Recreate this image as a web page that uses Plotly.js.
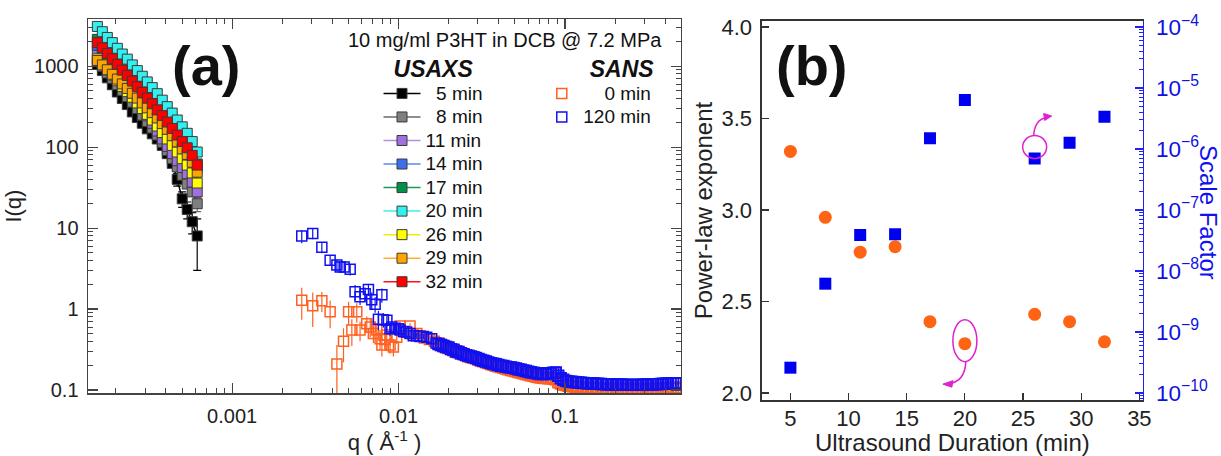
<!DOCTYPE html>
<html><head><meta charset="utf-8">
<script src="https://cdn.plot.ly/plotly-3.0.1.min.js"></script>
<style>html,body{margin:0;padding:0;background:#fff}#chart{width:1221px;height:456px}</style>
</head><body><div id="chart"></div>
<script>
// ---------- Panel (a): USAXS ----------
const usaxsQ = [1.549e-4, 1.660e-4, 1.778e-4, 1.905e-4, 2.042e-4, 2.188e-4, 2.344e-4, 2.512e-4, 2.692e-4, 2.884e-4, 3.090e-4, 3.311e-4, 3.548e-4, 3.802e-4, 4.074e-4, 4.365e-4, 4.677e-4, 5.012e-4, 5.370e-4, 5.754e-4, 6.166e-4];
const usaxsLabels = ['5 min', '8 min', '11 min', '14 min', '17 min', '20 min', '26 min', '29 min', '32 min'];
const usaxs5  = [1050, 881, 716, 589, 479, 398, 335, 272, 232, 197, 168, 146, 126, 105, 83, 63, 40, 23, 17, 12, 8];
const usaxs5Err = [10, 8, 7, 6, 5, 5, 4, 4, 4, 4, 4, 4, 4, 5, 5, 6, 7, 5, 4, 3.5, 5];
const usaxs8  = [1150, 989, 822, 708, 589, 501, 422, 359, 299, 248, 207, 172, 141, 115, 91, 72, 57, 45, 35, 28, 20];
const usaxs8Err = [8, 7, 6, 5, 5, 4, 4, 3, 3, 3, 3, 3, 3, 3, 3, 3, 3, 3, 3, 3, 4];
const usaxs11 = [1550, 1300, 1080, 912, 759, 631, 531, 442, 367, 299, 243, 197, 158, 126, 102, 83, 68, 56, 47, 37, 28];
const usaxs14 = [1810, 1560, 1330, 1140, 977, 829, 713, 607, 517, 440, 375, 319, 268, 228, 190, 158, 131, 109, 91, 73, 56];
const usaxs17 = [2140, 1840, 1570, 1350, 1150, 977, 841, 716, 610, 519, 442, 376, 316, 263, 219, 182, 150, 123, 102, 81, 62];
const usaxs20 = [3090, 2660, 2260, 1950, 1660, 1410, 1220, 1035, 881, 750, 638, 543, 457, 380, 316, 263, 216, 178, 148, 117, 87];
const usaxs26 = [1230, 1060, 902, 776, 661, 562, 484, 412, 351, 299, 254, 216, 182, 151, 126, 105, 87, 72, 60, 48, 36];
const usaxs29 = [1175, 1035, 902, 794, 692, 603, 531, 462, 403, 351, 305, 266, 229, 195, 166, 138, 116, 95, 81, 65, 49];
const usaxs32 = [1950, 1680, 1430, 1230, 1050, 891, 767, 653, 556, 473, 403, 343, 288, 245, 204, 170, 141, 117, 98, 79, 60];

// ---------- Panel (a): SANS, low q (individual points) ----------
const sansLabels = ['0 min', '120 min'];
const sans0LowQ = [2.62e-3, 3.05e-3, 3.46e-3, 3.88e-3, 4.26e-3, 4.67e-3, 5.01e-3, 5.24e-3, 5.61e-3, 5.87e-3, 6.44e-3, 6.76e-3, 7.06e-3, 7.40e-3, 7.74e-3, 7.94e-3, 8.30e-3, 8.49e-3, 8.89e-3, 9.31e-3, 9.75e-3, 1.021e-2, 1.094e-2, 1.172e-2, 1.227e-2, 1.288e-2, 1.349e-2, 1.429e-2, 1.531e-2, 1.641e-2];
const sans0LowI = [1.29, 1.10, 1.27, 0.93, 0.21, 0.40, 0.93, 0.55, 0.93, 0.55, 0.66, 0.60, 0.50, 0.55, 0.43, 0.36, 0.42, 0.48, 0.36, 0.34, 0.45, 0.62, 0.52, 0.62, 0.48, 0.50, 0.47, 0.44, 0.42, 0.40];
const sans0LowErr = [0.55, 0.5, 0.35, 0.35, 0.15, 0.18, 0.3, 0.2, 0.25, 0.15, 0.15, 0.15, 0.12, 0.12, 0.12, 0.1, 0.1, 0.1, 0.08, 0.08, 0.08, 0.06, 0.06, 0.05, 0.05, 0.04, 0.035, 0.03, 0.03, 0.028];
const sans120LowQ = [2.62e-3, 3.05e-3, 3.46e-3, 3.88e-3, 4.26e-3, 4.46e-3, 4.71e-3, 5.12e-3, 5.48e-3, 5.87e-3, 6.30e-3, 6.59e-3, 6.90e-3, 7.23e-3, 7.57e-3, 7.94e-3, 8.11e-3, 8.51e-3, 8.89e-3, 9.10e-3, 9.53e-3, 9.98e-3, 1.021e-2, 1.069e-2, 1.119e-2, 1.172e-2, 1.227e-2, 1.285e-2, 1.346e-2, 1.409e-2, 1.476e-2, 1.581e-2, 1.679e-2];
const sans120LowI = [8.0, 8.6, 5.8, 4.0, 3.5, 3.3, 3.3, 3.1, 1.64, 1.42, 1.55, 1.75, 1.30, 1.15, 0.75, 1.50, 0.74, 0.73, 0.57, 0.60, 0.58, 0.57, 0.55, 0.53, 0.52, 0.50, 0.47, 0.47, 0.46, 0.46, 0.45, 0.43, 0.38];
const sans120LowErr = [1.5, 1.3, 0.9, 0.6, 0.6, 0.5, 0.5, 0.5, 0.35, 0.3, 0.3, 0.3, 0.3, 0.25, 0.2, 0.3, 0.15, 0.12, 0.1, 0.1, 0.08, 0.08, 0.07, 0.06, 0.06, 0.05, 0.05, 0.04, 0.04, 0.04, 0.04, 0.03, 0.03];

// ---------- Panel (a): SANS, high q (dense band) ----------
const sansBandQ = [0.01738, 0.01799, 0.01862, 0.01928, 0.01995, 0.02065, 0.02138, 0.02213, 0.02291, 0.02371, 0.02455, 0.02541, 0.02630, 0.02723, 0.02818, 0.02917, 0.03020, 0.03126, 0.03236, 0.03350,
  0.03467, 0.03589, 0.03715, 0.03846, 0.03981, 0.04121, 0.04266, 0.04416, 0.04571, 0.04732, 0.04898, 0.05070, 0.05248, 0.05433, 0.05623, 0.05821, 0.06026, 0.06237, 0.06457, 0.06683,
  0.06918, 0.07161, 0.07413, 0.07674, 0.07943, 0.08222, 0.08511, 0.08810, 0.09120, 0.09441, 0.09772, 0.1012, 0.1047, 0.1084, 0.1122, 0.1161, 0.1202, 0.1245, 0.1288, 0.1334,
  0.1380, 0.1429, 0.1479, 0.1531, 0.1585, 0.1641, 0.1698, 0.1758, 0.1820, 0.1884, 0.1950, 0.2018, 0.2089, 0.2163, 0.2239, 0.2317, 0.2399, 0.2483, 0.2570, 0.2661,
  0.2754, 0.2851, 0.2951, 0.3055, 0.3162, 0.3273, 0.3388, 0.3508, 0.3631, 0.3758, 0.3890, 0.4027, 0.4169, 0.4315, 0.4467, 0.4624, 0.4786];
const sans0BandI = [0.375, 0.36, 0.35, 0.34, 0.33, 0.32, 0.31, 0.30, 0.295, 0.285, 0.278, 0.27, 0.262, 0.256, 0.25, 0.245, 0.238, 0.232, 0.226, 0.22,
  0.215, 0.21, 0.205, 0.20, 0.196, 0.192, 0.188, 0.184, 0.18, 0.177, 0.174, 0.17, 0.167, 0.164, 0.161, 0.158, 0.155, 0.152, 0.15, 0.147,
  0.145, 0.143, 0.142, 0.141, 0.14, 0.14, 0.138, 0.136, 0.125, 0.12, 0.117, 0.115, 0.113, 0.112, 0.111, 0.110, 0.109, 0.108, 0.108, 0.107,
  0.107, 0.106, 0.106, 0.105, 0.105, 0.105, 0.104, 0.104, 0.104, 0.104, 0.103, 0.103, 0.103, 0.103, 0.103, 0.103, 0.103, 0.103, 0.103, 0.103,
  0.103, 0.103, 0.103, 0.103, 0.104, 0.104, 0.104, 0.104, 0.104, 0.104, 0.105, 0.105, 0.105, 0.105, 0.106, 0.106, 0.106];
const sans120BandI = [0.37, 0.36, 0.35, 0.34, 0.335, 0.32, 0.315, 0.30, 0.295, 0.285, 0.278, 0.27, 0.265, 0.26, 0.255, 0.25, 0.242, 0.235, 0.23, 0.225,
  0.22, 0.215, 0.212, 0.208, 0.204, 0.20, 0.198, 0.195, 0.192, 0.19, 0.188, 0.185, 0.181, 0.178, 0.175, 0.172, 0.169, 0.166, 0.164, 0.162,
  0.16, 0.158, 0.158, 0.158, 0.16, 0.162, 0.164, 0.165, 0.15, 0.14, 0.134, 0.13, 0.128, 0.127, 0.126, 0.125, 0.124, 0.123, 0.1225, 0.122,
  0.1215, 0.121, 0.1205, 0.120, 0.1195, 0.119, 0.1185, 0.118, 0.118, 0.118, 0.1175, 0.117, 0.117, 0.117, 0.1165, 0.116, 0.116, 0.116, 0.116, 0.116,
  0.116, 0.116, 0.1165, 0.117, 0.117, 0.117, 0.1175, 0.118, 0.1185, 0.119, 0.1195, 0.120, 0.1205, 0.121, 0.1215, 0.122, 0.122];

// ---------- Panel (b) ----------
const durations = [5, 8, 11, 14, 17, 20, 26, 29, 32];
const powerLawExponent = [3.32, 2.96, 2.77, 2.80, 2.39, 2.27, 2.43, 2.39, 2.28];
const scaleFactor = [2.6e-10, 6.2e-9, 3.9e-8, 4.0e-8, 1.5e-6, 6.4e-6, 7.0e-7, 1.27e-6, 3.4e-6];

// ---------- styling ----------
const FONT = 'Liberation Sans, Arial, sans-serif';
const usaxsSeries = [usaxs5, usaxs8, usaxs11, usaxs14, usaxs17, usaxs20, usaxs26, usaxs29, usaxs32];
const usaxsErrs = [usaxs5Err, usaxs8Err, null, null, null, null, null, null, null];
const usaxsMarker = ['#000000', '#7F7F7F', '#A070E0', '#3F6FE8', '#00904A', '#33F0F0', '#FFFF00', '#FFA500', '#FF0000'];
const usaxsLine   = ['#000000', '#6A6A6A', '#B48CE6', '#5A84F0', '#1A9A55', '#33F0F0', '#F0F000', '#FFB030', '#FF1010'];
const sansColors = ['#FF6020', '#1010F0'];
const padL = ['\u00A0\u00A0', '\u00A0\u00A0', '', '', '', '', '', '', ''];

const traces = [];
usaxsSeries.forEach((ys, i) => {
  const t = {
    x: usaxsQ, y: ys, type: 'scatter', mode: 'lines+markers',
    name: '<span style="font-size:19px">' + padL[i] + usaxsLabels[i] + '</span>',
    legend: 'legend',
    line: {color: usaxsLine[i], width: 1.5},
    marker: {symbol: 'square', size: 10, color: usaxsMarker[i], line: {color: '#3a3a3a', width: 1}},
    xaxis: 'x', yaxis: 'y'
  };
  if (usaxsErrs[i]) t.error_y = {type: 'data', array: usaxsErrs[i], visible: true, color: usaxsLine[i], thickness: 1.2, width: 4};
  traces.push(t);
});
const sansLow = [[sans0LowQ, sans0LowI, sans0LowErr], [sans120LowQ, sans120LowI, sans120LowErr]];
const sansBand = [sans0BandI, sans120BandI];
sansLow.forEach((s, i) => {
  traces.push({
    x: sansBandQ, y: sansBand[i], type: 'scatter', mode: 'markers', showlegend: false,
    marker: {symbol: 'square-open', size: 10.5, color: sansColors[i], line: {width: 1.9}},
    error_y: {type: 'percent', value: 6, visible: true, color: sansColors[i], thickness: 1.4, width: 0},
    xaxis: 'x', yaxis: 'y'
  });
  traces.push({
    x: s[0], y: s[1], type: 'scatter', mode: 'markers',
    name: '<span style="font-size:19px">' + (i === 0 ? '\u00A0\u00A0\u00A0\u00A0' : '') + sansLabels[i] + '</span>',
    legend: 'legend2',
    marker: {symbol: 'square-open', size: 10, color: sansColors[i], line: {width: 1.5}},
    error_y: {type: 'data', array: s[2], visible: true, color: sansColors[i], thickness: 1.2, width: 0},
    xaxis: 'x', yaxis: 'y'
  });
});
traces.push({
  x: durations, y: powerLawExponent, type: 'scatter', mode: 'markers', showlegend: false,
  marker: {symbol: 'circle', size: 13, color: '#FF6414'}, xaxis: 'x2', yaxis: 'y2'
});
traces.push({
  x: durations, y: scaleFactor, type: 'scatter', mode: 'markers', showlegend: false,
  marker: {symbol: 'square', size: 12, color: '#0000F0'}, xaxis: 'x2', yaxis: 'y3'
});

const axA = {
  showline: true, linecolor: '#444', linewidth: 1.5, mirror: 'allticks', ticks: 'inside',
  ticklen: 10, tickwidth: 1.2, tickcolor: '#444', showgrid: false, zeroline: false,
  tickfont: {family: FONT, size: 20, color: '#222'},
  minor: {ticks: 'inside', ticklen: 5, tickwidth: 1, tickcolor: '#444', dtick: 'D1', showgrid: false}
};
const magenta = '#E020D0';
const layout = {
  width: 1221, height: 456,
  margin: {l: 0, r: 0, t: 0, b: 0},
  paper_bgcolor: '#fff', plot_bgcolor: 'rgba(0,0,0,0)',
  font: {family: FONT, color: '#222'},
  showlegend: true,
  xaxis: Object.assign({}, axA, {
    type: 'log', range: [-3.866, -0.303], domain: [0.0721, 0.5577], anchor: 'y',
    dtick: 1, exponentformat: 'none', ticklabelstandoff: 4,
    title: {text: 'q ( Å<sup>-1</sup> )', font: {family: FONT, size: 22, color: '#222'}, standoff: 4}
  }),
  yaxis: Object.assign({}, axA, {
    type: 'log', range: [-1.037, 3.58], domain: [0.138, 0.958], anchor: 'x',
    dtick: 1, exponentformat: 'none', ticklabelstandoff: 4,
    title: {text: 'I(q)', font: {family: FONT, size: 22, color: '#222'}, standoff: 6}
  }),
  xaxis2: {
    range: [2.55, 35.3], domain: [0.624, 0.936], anchor: 'y2',
    showline: true, linecolor: '#333', linewidth: 1.5, mirror: true,
    ticks: 'inside', ticklen: 7, tickwidth: 1.2, tickcolor: '#333', dtick: 5,
    showgrid: false, zeroline: false, ticklabelstandoff: -2,
    tickfont: {family: FONT, size: 22, color: '#222'},
    title: {text: 'Ultrasound Duration (min)', font: {family: FONT, size: 24, color: '#222'}, standoff: 10}
  },
  yaxis2: {
    range: [1.962, 4.033], domain: [0.1228, 0.954], anchor: 'x2',
    showline: true, linecolor: '#333', linewidth: 1.5,
    ticks: 'inside', ticklen: 7, tickwidth: 1.2, tickcolor: '#333', dtick: 0.5, tickformat: '.1f',
    showgrid: false, zeroline: false, ticklabelstandoff: 4,
    tickfont: {family: FONT, size: 22, color: '#222'},
    title: {text: 'Power-law exponent', font: {family: FONT, size: 24, color: '#222'}, standoff: 2}
  },
  yaxis3: {
    type: 'log', range: [-10.115, -3.90], overlaying: 'y2', side: 'right', anchor: 'x2',
    showline: true, linecolor: '#2020F0', linewidth: 1.5,
    ticks: 'inside', ticklen: 8, tickwidth: 1.2, tickcolor: '#2020F0', dtick: 1, exponentformat: 'power',
    showgrid: false, zeroline: false, ticklabelstandoff: 8,
    tickfont: {family: FONT, size: 18, color: '#1010E0'},
    minor: {ticks: 'inside', ticklen: 4, tickwidth: 1, tickcolor: '#2020F0', dtick: 'D1', showgrid: false}
  },
  legend: {
    x: 0.310, y: 0.8975, xanchor: 'left', yanchor: 'top', bgcolor: 'rgba(0,0,0,0)',
    font: {family: FONT, size: 15.8, color: '#111'}, itemwidth: 37, tracegroupgap: 0,
    title: {text: '<b><i>USAXS</i></b>', side: 'top center', font: {family: FONT, size: 23, color: '#111'}}
  },
  legend2: {
    x: 0.4425, y: 0.8975, xanchor: 'left', yanchor: 'top', bgcolor: 'rgba(0,0,0,0)',
    font: {family: FONT, size: 15.8, color: '#111'}, itemwidth: 33, tracegroupgap: 0,
    title: {text: '<b><i>SANS</i></b>', side: 'top right', font: {family: FONT, size: 23, color: '#111'}}
  },
  annotations: [
    {text: '<b>(a)</b>', xref: 'paper', yref: 'paper', x: 206 / 1221, y: 1 - 65 / 456, xanchor: 'center', yanchor: 'middle',
     showarrow: false, font: {family: FONT, size: 56, color: '#111'}},
    {text: '<b>(b)</b>', xref: 'paper', yref: 'paper', x: 812 / 1221, y: 1 - 65 / 456, xanchor: 'center', yanchor: 'middle',
     showarrow: false, font: {family: FONT, size: 56, color: '#111'}},
    {text: '10 mg/ml P3HT in DCB @ 7.2 MPa', xref: 'paper', yref: 'paper', x: 504.5 / 1221, y: 1 - 40 / 456,
     xanchor: 'center', yanchor: 'middle', showarrow: false, font: {family: FONT, size: 20, color: '#111'}},
    {text: 'Scale Factor', xref: 'paper', yref: 'paper', x: 1209 / 1221, y: 1 - 212 / 456, textangle: 90,
     xanchor: 'center', yanchor: 'middle', showarrow: false, font: {family: FONT, size: 24, color: '#1010F0'}}
  ],
  shapes: [
    {type: 'circle', xref: 'x2', yref: 'y2', xsizemode: 'pixel', ysizemode: 'pixel',
     xanchor: durations[5], yanchor: powerLawExponent[5], x0: -12, x1: 12, y0: -18, y1: 24,
     line: {color: magenta, width: 1.5}},
    {type: 'path', xref: 'x2', yref: 'y2', xsizemode: 'pixel', ysizemode: 'pixel',
     xanchor: durations[5], yanchor: powerLawExponent[5],
     path: 'M 1,-18 Q 0,-38 -16,-40', line: {color: magenta, width: 1.5}},
    {type: 'path', xref: 'x2', yref: 'y2', xsizemode: 'pixel', ysizemode: 'pixel',
     xanchor: durations[5], yanchor: powerLawExponent[5],
     path: 'M -22,-40.5 L -12,-37 L -13,-43.5 Z', fillcolor: magenta, line: {color: magenta, width: 1}},
    {type: 'circle', xref: 'x2', yref: 'y3', xsizemode: 'pixel', ysizemode: 'pixel',
     xanchor: durations[6], yanchor: scaleFactor[6], x0: -12, x1: 12, y0: -19, y1: 23,
     line: {color: magenta, width: 1.5}},
    {type: 'path', xref: 'x2', yref: 'y3', xsizemode: 'pixel', ysizemode: 'pixel',
     xanchor: durations[6], yanchor: scaleFactor[6],
     path: 'M -1,23 Q 0,39 12,41', line: {color: magenta, width: 1.5}},
    {type: 'path', xref: 'x2', yref: 'y3', xsizemode: 'pixel', ysizemode: 'pixel',
     xanchor: durations[6], yanchor: scaleFactor[6],
     path: 'M 17,42.5 L 9,45 L 10,38 Z', fillcolor: magenta, line: {color: magenta, width: 1}}
  ]
};
Plotly.newPlot('chart', traces, layout, {staticPlot: true, displayModeBar: false});
</script>
</body></html>
